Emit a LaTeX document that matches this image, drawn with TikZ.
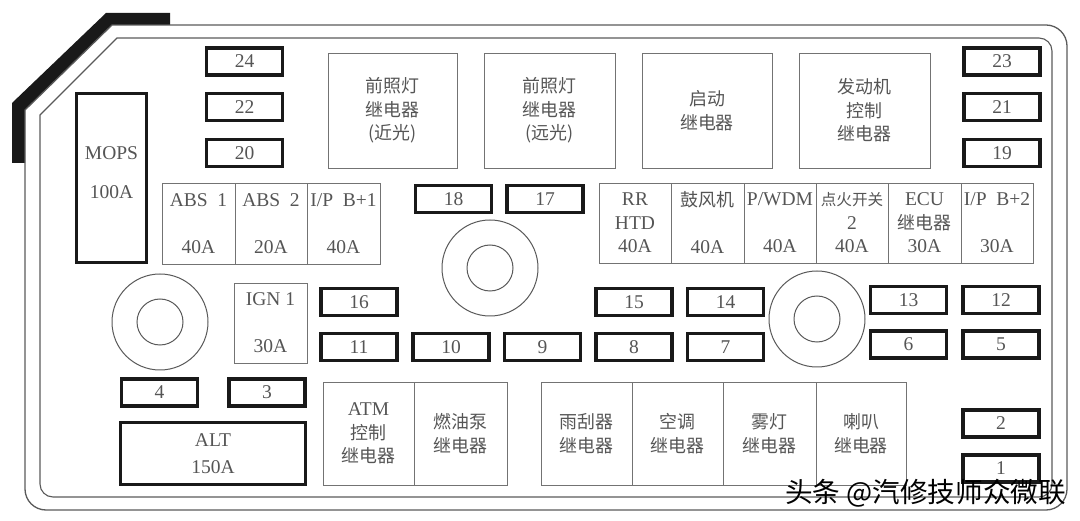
\documentclass[tikz,border=0pt]{standalone}
\usepackage{fontspec}
\setmainfont{Liberation Serif}
\newfontfamily\zh{Noto Sans CJK SC}[Scale=0.92]
\newfontfamily\zhn{Noto Sans CJK SC}[Scale=0.8]
\definecolor{ink}{HTML}{555555}
\definecolor{rimgray}{HTML}{5A5A5A}

\begin{document}
\begin{tikzpicture}[x=1pt, y=-1pt,
	font=\fontsize{19.5}{23.5}\selectfont,
	rim/.style={draw=rimgray, line width=1.3pt},
	fuse/.style={draw=black!90, line width=3.2pt, minimum width=76pt, minimum height=27pt, inner sep=0pt, text=ink},
	cell/.style={draw=black!55, line width=0.9pt, inner sep=0pt, align=center, text=ink},
	zhcell/.style={cell, font=\zh\fontsize{19.5}{23.5}\selectfont},
	txt/.style={align=center, text=ink, inner sep=0pt},
	ring/.style={circle, draw=black!65, line width=1pt, inner sep=0pt}]
	\useasboundingbox (0,0) rectangle (1080,521);
	\fill[black!90](170,13)--(106,13)--(12,103)--(12,163)--(25,163)--(25,110)--(112,25)--(170,25)--cycle;
	\draw[rim, rounded corners=21](112,25)--(1067,25)--(1067,510)--(25,510)[sharp corners]--(25,110)--cycle;
	\draw[rim, line width=1.1pt, rounded corners=13](117,38)--(1052,38)--(1052,497)--(40,497)[sharp corners]--(40,115)--cycle;

	\node[fuse, minimum width=70pt, minimum height=169pt] (mops) at (111.5,178) {};
	\node[txt] (mopsT) at (111.5,172.5) {MOPS\\[15.5pt]100A};
	\node[fuse, minimum width=185pt, minimum height=62pt, align=center] (alt) at (213,453.5) {ALT\\[3.5pt]150A};

	\foreach \n/\x/\y in {24/244.5/61.5, 22/244.5/107, 20/244.5/153, 23/1002/61.5, 21/1002/107, 19/1002/153,
		18/453.5/199, 17/545/199, 16/359/302, 15/634/302, 14/725.5/302, 13/908.5/300, 12/1001/300,
		11/359/347, 10/451/347, 9/542.5/347, 8/634/347, 7/725.5/347, 6/908.5/344.5, 5/1001/344.5,
		4/159.5/392.5, 3/267/392.5, 2/1001/423.5, 1/1001/468.5}
		\node[fuse] (f\n) at (\x,\y) {\n};

	\node[zhcell, minimum width=129pt, minimum height=115pt] (lowbeam) at (392.5,110.5) {前照灯\\继电器\\(近光)};
	\node[zhcell, minimum width=131pt, minimum height=115pt] (highbeam) at (549.5,110.5) {前照灯\\继电器\\(远光)};
	\node[zhcell, minimum width=130pt, minimum height=115pt] (starter) at (707,110.5) {启动\\继电器};
	\node[zhcell, minimum width=131pt, minimum height=115pt] (ecm) at (864.5,110.5) {发动机\\控制\\继电器};

	\node[cell, minimum width=73pt, minimum height=81pt] (abs1) at (198.5,223.5) {ABS\ \ 1\\[23.5pt]40A};
	\node[cell, minimum width=72pt, minimum height=81pt] (abs2) at (271,223.5) {ABS\ \ 2\\[23.5pt]20A};
	\node[cell, minimum width=73pt, minimum height=81pt] (ipb1) at (343.5,223.5) {I/P\ \ B+1\\[23.5pt]40A};
	\node[cell, minimum width=73pt, minimum height=80pt] (ign1) at (270.5,323) {IGN 1\\[23.5pt]30A};

	\node[cell, minimum width=72pt, minimum height=80pt] (rrhtd) at (635,223) {RR\\HTD\\40A};
	\node[cell, minimum width=73pt, minimum height=80pt] (blower) at (707.5,223) {{\zh 鼓风机}\\[23.5pt]40A};
	\node[cell, minimum width=72pt, minimum height=80pt] (pwdm) at (780,223) {P/WDM\\[23.5pt]40A};
	\node[cell, minimum width=72pt, minimum height=80pt] (ign2) at (852,223) {{\zhn 点火开关}\\2\\40A};
	\node[cell, minimum width=73pt, minimum height=80pt] (ecu) at (924.5,223) {ECU\\{\zh 继电器}\\30A};
	\node[cell, minimum width=72pt, minimum height=80pt] (ipb2) at (997,223) {I/P\ \ B+2\\[23.5pt]30A};

	\node[cell, minimum width=91pt, minimum height=103pt] (atm) at (368.5,433.5) {ATM\\{\zh 控制}\\{\zh 继电器}};
	\node[zhcell, minimum width=93pt, minimum height=103pt] (fuel) at (460.5,433.5) {燃油泵\\继电器};
	\node[zhcell, minimum width=91pt, minimum height=103pt] (wiper) at (586.5,433.5) {雨刮器\\继电器};
	\node[zhcell, minimum width=91pt, minimum height=103pt] (aircon) at (677.5,433.5) {空调\\继电器};
	\node[zhcell, minimum width=93pt, minimum height=103pt] (fog) at (769.5,433.5) {雾灯\\继电器};
	\node[zhcell, minimum width=90pt, minimum height=103pt] (horn) at (861,433.5) {喇叭\\继电器};

	\foreach \c/\x/\y in {a/160/322, b/490/268, c/817/319}{
		\node[ring, minimum size=96pt] (ring\c) at (\x,\y) {};
		\node[ring, minimum size=46pt] (hub\c) at (ring\c) {};
	}

	\node[anchor=east, inner sep=0pt, text=black, font=\zh\fontsize{30}{30}\selectfont] (mark) at (1066,493) {头条 @汽修技师众微联};
\end{tikzpicture}
\end{document}
